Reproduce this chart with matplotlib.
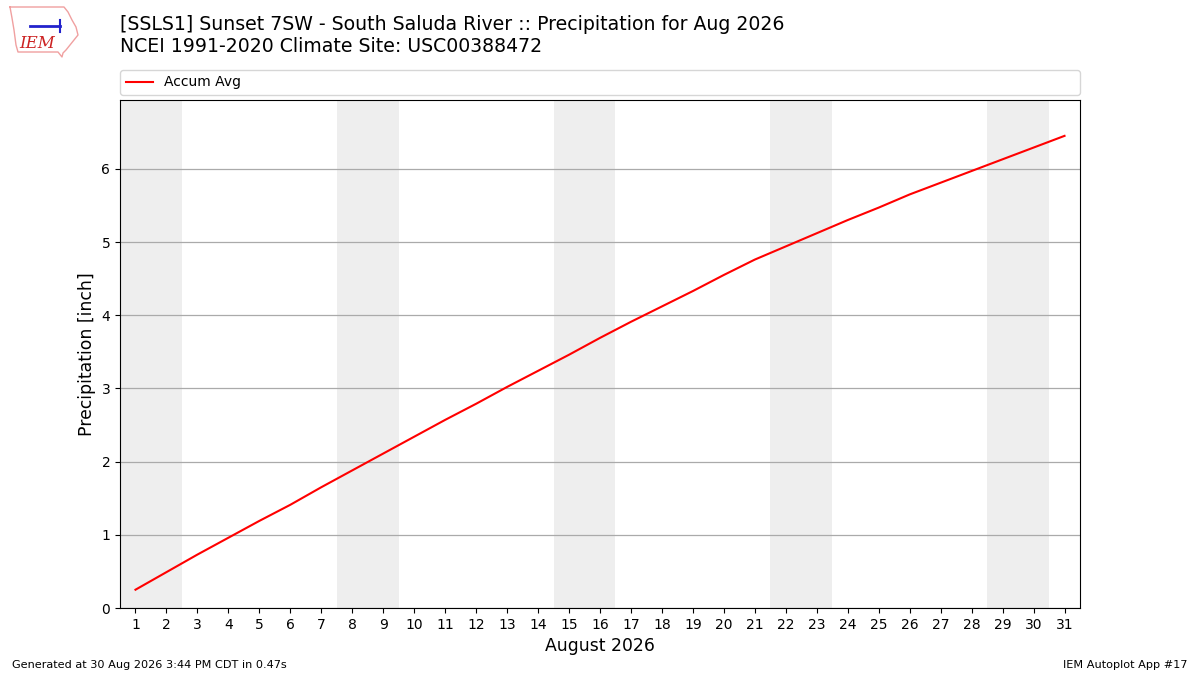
import matplotlib
matplotlib.use("Agg")
import matplotlib.pyplot as plt
from matplotlib.lines import Line2D

days = list(range(1, 32))
accum_avg = [0.25, 0.49, 0.73, 0.96, 1.19, 1.41, 1.65, 1.88, 2.11, 2.34,
             2.57, 2.79, 3.02, 3.24, 3.46, 3.69, 3.91, 4.12, 4.33, 4.55,
             4.76, 4.94, 5.12, 5.30, 5.47, 5.65, 5.81, 5.97, 6.13, 6.29, 6.45]
weekend_starts = [1, 8, 15, 22, 29]
tick_labels = [str(d) for d in days]

title1 = "[SSLS1] Sunset 7SW - South Saluda River :: Precipitation for Aug 2026"
title2 = "NCEI 1991-2020 Climate Site: USC00388472"

W, H = 1200, 675
fig = plt.figure(figsize=(12, 6.75), dpi=100)
ax = fig.add_axes([120 / W, (H - 608) / H, 960 / W, (608 - 100) / H])

for s in weekend_starts:
    ax.axvspan(s - 0.5, s + 1.5, color="#eeeeee", zorder=0, lw=0)

ax.plot(days, accum_avg, color="red", lw=1.5, label="Accum Avg", zorder=3)

ax.set_xlim(0.5, 31.5)
ax.set_ylim(0, 6.94)
ax.set_xticks(days)
ax.set_xticklabels(tick_labels)
ax.tick_params(labelsize=10)
ax.yaxis.grid(True, color="#aaaaaa", lw=0.9, zorder=1)
ax.set_axisbelow(True)
ax.set_xlabel("August 2026", fontsize=12.4)
ax.set_ylabel("Precipitation [inch]", fontsize=12.4)

ax.legend(loc="lower left", bbox_to_anchor=(0, 1.01, 1, 0.05), mode="expand",
          ncol=1, fontsize=10, borderaxespad=0, frameon=True)

fig.text(120 / W, 1 - 24 / H, title1, fontsize=13.6, va="center", ha="left")
fig.text(120 / W, 1 - 47 / H, title2, fontsize=13.6, va="center", ha="left")

fig.text(12 / W, 1 - 665 / H, "Generated at 30 Aug 2026 3:44 PM CDT in 0.47s",
         fontsize=8.1, va="center", ha="left")
fig.text(1187 / W, 1 - 665 / H, "IEM Autoplot App #17",
         fontsize=8.1, va="center", ha="right")

# simple logo stand-in (decoration)
ox = [10, 64, 68, 72, 76, 78, 74, 70, 66, 63, 62, 58, 18, 16, 14, 12, 10]
oy = [7, 7, 12, 20, 27, 35, 40, 45, 50, 53, 57, 52, 52, 45, 30, 18, 7]
fig.add_artist(Line2D([x / W for x in ox], [1 - y / H for y in oy],
                      transform=fig.transFigure, color="#f0a0a0", lw=1))
fig.add_artist(Line2D([30 / W, 60 / W], [1 - 26 / H, 1 - 26 / H],
                      transform=fig.transFigure, color="#2222cc", lw=2))
fig.add_artist(Line2D([60 / W, 60 / W], [1 - 20 / H, 1 - 32 / H],
                      transform=fig.transFigure, color="#2222cc", lw=1.5))
fig.text(37 / W, 1 - 44 / H, "IEM", fontsize=12, color="#cc2222",
         family="DejaVu Serif", style="italic", va="center", ha="center")

fig.savefig("out.png", dpi=100)
